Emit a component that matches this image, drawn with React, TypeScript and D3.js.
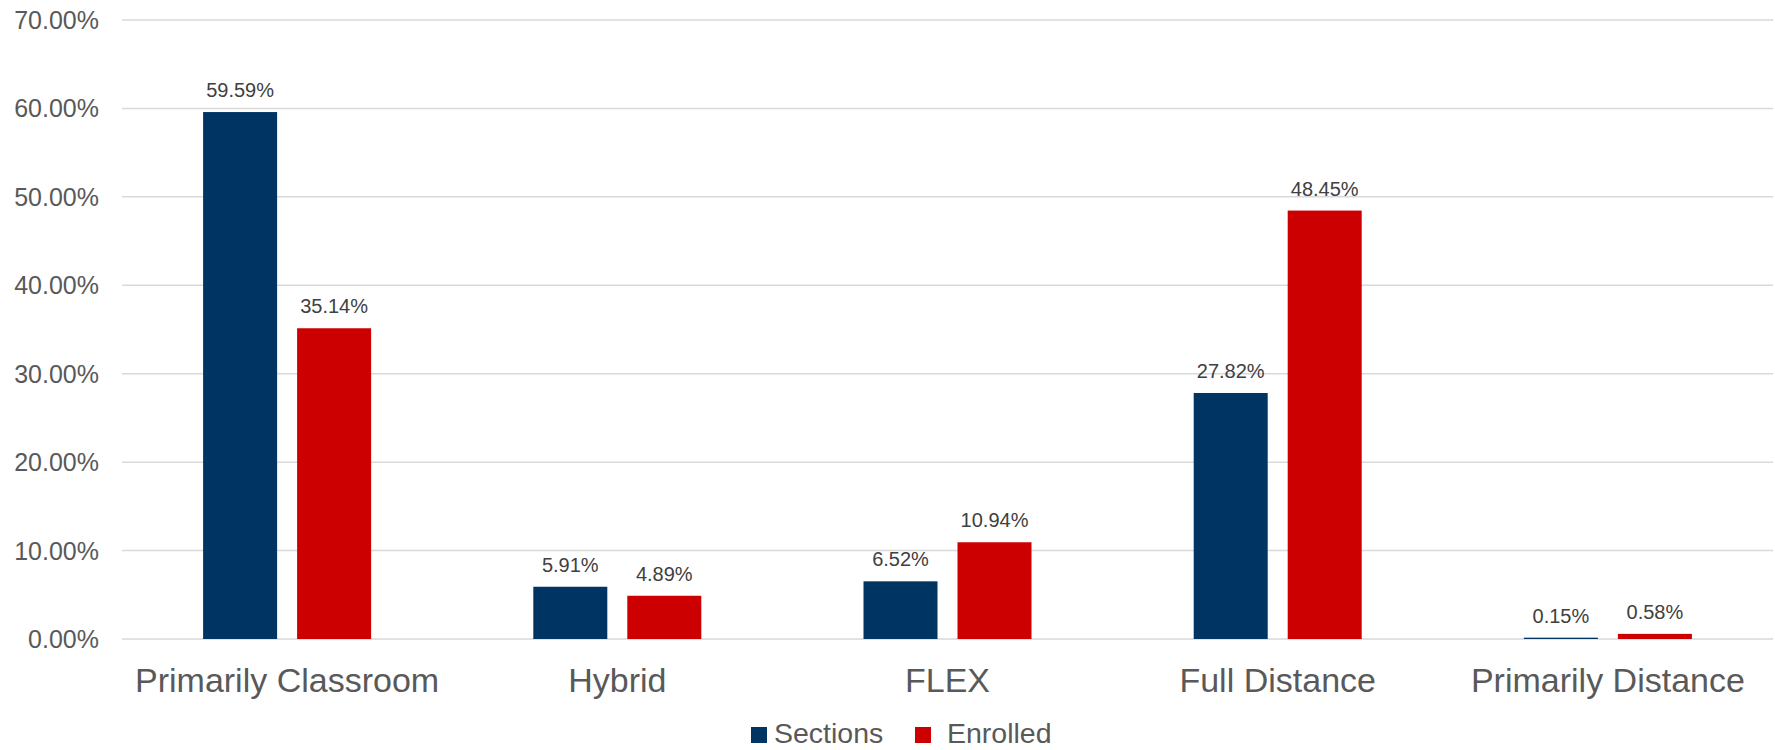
import React from "react";
import * as d3 from "d3";

const categories = ["Primarily Classroom", "Hybrid", "FLEX", "Full Distance", "Primarily Distance"];
const seriesNames = ["Sections", "Enrolled"];
const sections = [59.59, 5.91, 6.52, 27.82, 0.15];
const enrolled = [35.14, 4.89, 10.94, 48.45, 0.58];
const yTicks = [0, 10, 20, 30, 40, 50, 60, 70];
const colors = ["#003462", "#CC0000"];

const W = 1775;
const H = 750;
const left = 122;
const right = 1773;
const yBottom = 639;
const yTop = 20;
const font = "'Liberation Sans', Arial, sans-serif";

export default function App() {
  const x0 = d3.scaleBand<string>().domain(categories).range([left, right]).paddingInner(0).paddingOuter(0);
  const x1 = d3.scaleBand<string>().domain(seriesNames).range([-84, 84]).paddingInner(20 / 94).paddingOuter(0);
  const y = d3.scaleLinear().domain([0, 70]).range([yBottom, yTop]);
  const values = [sections, enrolled];

  return (
    <svg width={W} height={H} style={{ position: "absolute", left: 0, top: 0, background: "#fff" }} fontFamily={font}>
      {yTicks.map((t) => (
        <g key={t}>
          <line x1={left} x2={right} y1={y(t)} y2={y(t)} stroke="#d9d9d9" strokeWidth={1.5} />
          <text x={99} y={y(t) + 9} textAnchor="end" fontSize={25} fill="#595959">
            {t.toFixed(2) + "%"}
          </text>
        </g>
      ))}
      {categories.map((c, i) => {
        const cx = (x0(c) as number) + x0.bandwidth() / 2;
        return (
          <g key={c}>
            {seriesNames.map((s, j) => {
              const v = values[j][i];
              const bx = cx + (x1(s) as number);
              return (
                <g key={s}>
                  <rect x={bx} y={y(v)} width={x1.bandwidth()} height={yBottom - y(v)} fill={colors[j]} />
                  <text x={bx + x1.bandwidth() / 2} y={y(v) - 15} textAnchor="middle" fontSize={20} fill="#404040">
                    {v.toFixed(2) + "%"}
                  </text>
                </g>
              );
            })}
            <text x={cx} y={692} textAnchor="middle" fontSize={34} fill="#595959">
              {c}
            </text>
          </g>
        );
      })}
      <g>
        <rect x={751} y={727} width={16} height={16} fill={colors[0]} />
        <text x={774} y={743} fontSize={28.5} fill="#595959">{seriesNames[0]}</text>
        <rect x={915} y={727} width={16} height={16} fill={colors[1]} />
        <text x={947} y={743} fontSize={28.5} fill="#595959">{seriesNames[1]}</text>
      </g>
    </svg>
  );
}
